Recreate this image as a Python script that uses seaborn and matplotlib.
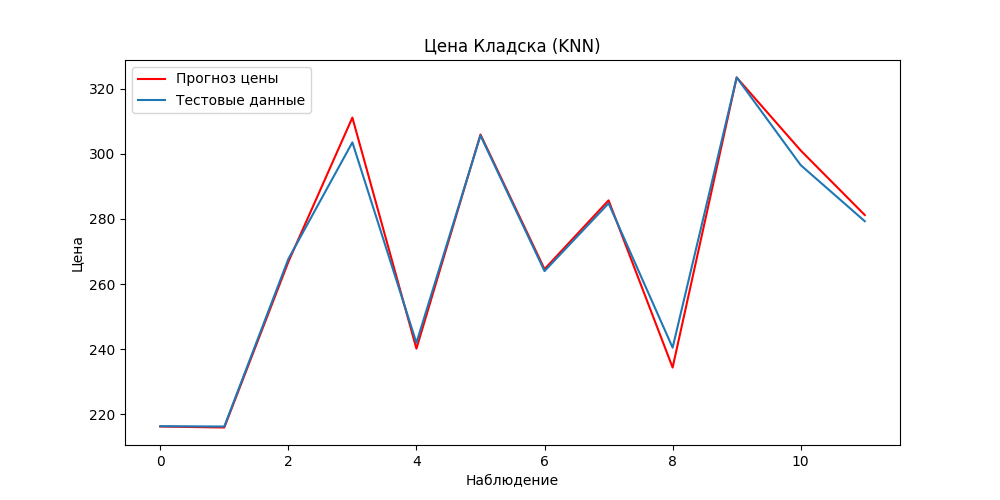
import matplotlib
matplotlib.use("Agg")
import matplotlib.pyplot as plt
import seaborn as sns
import numpy as np

observations = np.arange(12)
predicted = [216.3, 216.0, 266.8, 311.1, 240.2, 305.9, 264.6, 285.7, 234.4, 323.4, 301.0, 281.2]
test_data = [216.4, 216.3, 267.7, 303.5, 242.0, 305.6, 264.0, 284.8, 240.5, 323.4, 296.5, 279.3]

fig, ax = plt.subplots(figsize=(10, 5), dpi=100)
sns.lineplot(x=observations, y=predicted, color="red", label="Прогноз цены", ax=ax)
sns.lineplot(x=observations, y=test_data, color="#1f77b4", label="Тестовые данные", ax=ax)

ax.set_title("Цена Кладска (KNN)")
ax.set_xlabel("Наблюдение")
ax.set_ylabel("Цена")
ax.legend(loc="upper left")
fig.savefig("out.png")
